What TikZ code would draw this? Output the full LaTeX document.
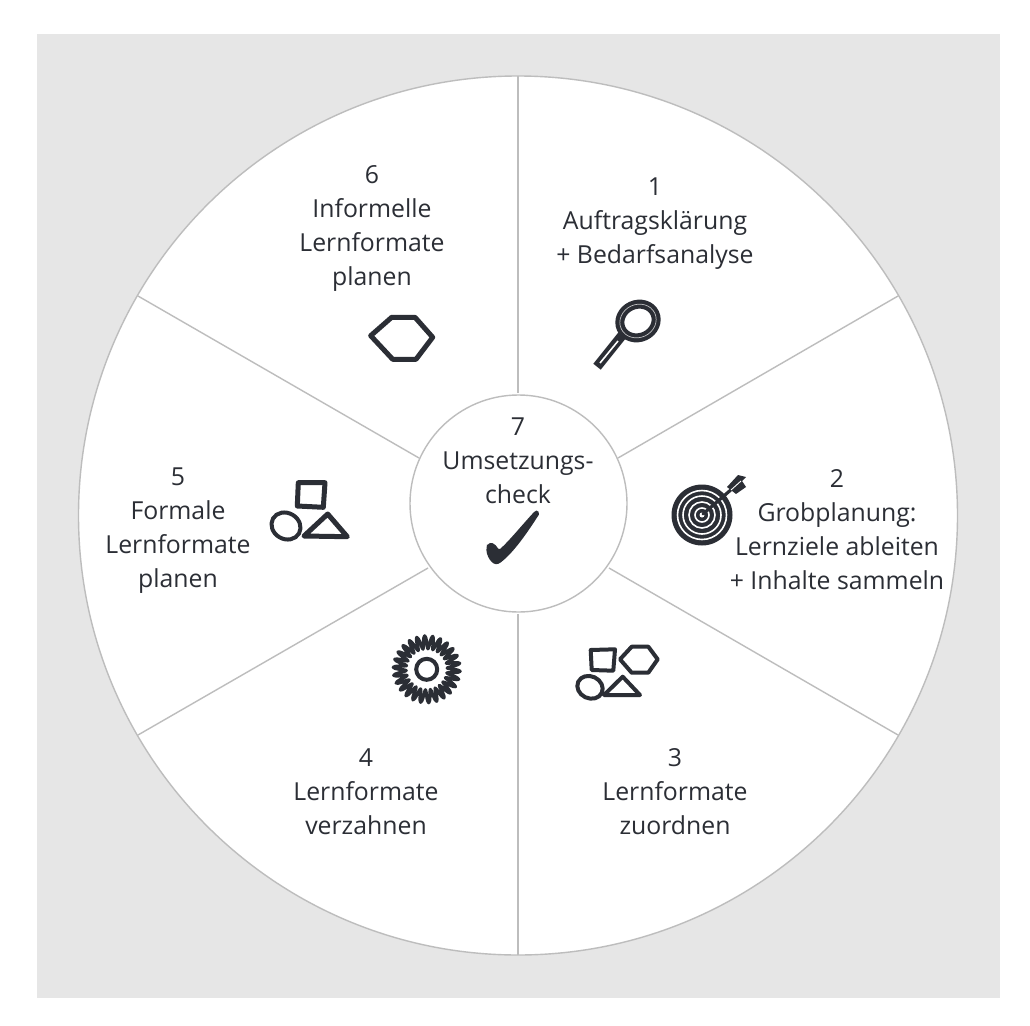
\documentclass[tikz,border=0pt]{standalone}
\usepackage{fontspec}
\setmainfont{Open Sans}
\definecolor{ink}{HTML}{2B2E35}
\definecolor{panel}{HTML}{E6E6E6}
\definecolor{rim}{HTML}{BDBDBD}
\begin{document}
\begin{tikzpicture}[x=1pt,y=-1pt,
  ring/.style={draw=rim,line width=1.4pt,fill=white},
  spoke/.style={draw=rim,line width=1.4pt},
  label/.style={text=ink,align=center,font=\fontsize{24.8}{34}\selectfont,inner sep=0pt},
  sketch/.style={draw=ink,line width=5pt,line join=round,line cap=round},
  thin sketch/.style={draw=ink,line width=4pt,line join=round,line cap=round}]
\useasboundingbox (0,0) rectangle (1030,1025);
\fill[panel] (37,34) rectangle (1000,998);
\draw[ring] (518,515.5) circle (439.5);
% spokes
\coordinate (o1) at (518,76);   \coordinate (i1) at (518,393);
\coordinate (o2) at (898,296);  \coordinate (i2) at (618,458);
\coordinate (o3) at (898,735);  \coordinate (i3) at (609,568);
\coordinate (o4) at (518,955);  \coordinate (i4) at (518,614);
\coordinate (o5) at (138,735);  \coordinate (i5) at (428,568);
\coordinate (o6) at (138,296);  \coordinate (i6) at (419,458);
\foreach \k in {1,...,6} \draw[spoke] (o\k) -- (i\k);
\draw[ring] (518.5,503.5) circle (108.5);
% labels
\node[label] (t1) at (655,223.5) {1\\Auftragsklärung\\+ Bedarfsanalyse};
\node[label] (t2) at (837,529.5) {2\\Grobplanung:\\Lernziele ableiten\\+ Inhalte sammeln};
\node[label] (t3) at (675,792) {3\\Lernformate\\zuordnen};
\node[label] (t4) at (366,792) {4\\Lernformate\\verzahnen};
\node[label] (t5) at (178,531) {5\\Formale\\Lernformate\\planen};
\node[label] (t6) at (372,228) {6\\Informelle\\Lernformate\\planen};
\node[label] (t7) at (518,461) {7\\Umsetzungs-\\check};
% magnifier
\draw[draw=ink,line width=9.5pt,line cap=rect] (620,338) -- (600,363);
\draw[draw=white,line width=1.6pt] (618,341) -- (600,363);
\draw[draw=ink,line width=9pt,fill=white,rotate around={25:(638,321)}] (638,321) ellipse (18.5 and 16.5);
\draw[draw=white!70!ink,line width=.7pt,rotate around={25:(638,321)}] (638,321) ellipse (18.5 and 16.5);
% target
\fill[ink] (702,515) circle (30.5);
\foreach \r in {24.5,19,13,7}{\draw[white,line width=1.6pt] (702,515) circle (\r);}
\fill[white] (702,515) circle (2.5);
\draw[ink,line width=3.2pt,line cap=round] (703,514) -- (733,488);
\fill[ink] (727,487) -- (738,475) -- (746,477) -- (742,481) -- (746,487) -- (736,494) -- cycle;
\draw[white,line width=.9pt] (731,490) -- (741,481);
% hexagon
\draw[sketch] (391.7,317.3) -- (415,317.3) -- (432.7,337.3) -- (416,359.3) -- (392.7,359.3) -- (370.7,335.7) -- cycle;
% shapes of 5
\draw[sketch] (298.3,482.7) -- (325,482.7) -- (323.3,507.3) -- (297.3,506) -- cycle;
\draw[thin sketch,rotate around={-30:(286,526)}] (286,526) ellipse (15 and 13);
\draw[sketch] (327.7,514) -- (347.3,536.7) -- (304,536) -- cycle;
% coil of 4
\draw[draw=ink,line width=3.3pt,line join=round] plot[smooth,domain=0:360,samples=209] ({426.7+(27+6.5*sin(26*\x))*cos(\x)},{669.3+(27+6.5*sin(26*\x))*sin(\x)}) -- cycle;
\draw[thin sketch] (426.7,669.3) circle (10.5);
% shapes of 3
\draw[thin sketch] (590.7,650) -- (615,649.3) -- (613.3,670.7) -- (591.7,670) -- cycle;
\draw[thin sketch] (620,659.3) -- (631.7,646.7) -- (648.3,646.7) -- (657.7,659.3) -- (648.3,672.7) -- (631.7,672.7) -- cycle;
\draw[thin sketch,rotate around={-25:(590,687.3)}] (590,687.3) ellipse (13 and 11);
\draw[thin sketch] (622.7,676.7) -- (640,695) -- (604,695) -- cycle;
% check mark
\fill[ink,rounded corners=1.5pt] (487,546) .. controls (490,541) and (495,543) .. (499,550) .. controls (510,540) and (522,525) .. (535,511) .. controls (538,510) and (540,513) .. (538,516) .. controls (527,533) and (514,552) .. (500,563) .. controls (492,567) and (485,554) .. (487,546) -- cycle;
\end{tikzpicture}
\end{document}
